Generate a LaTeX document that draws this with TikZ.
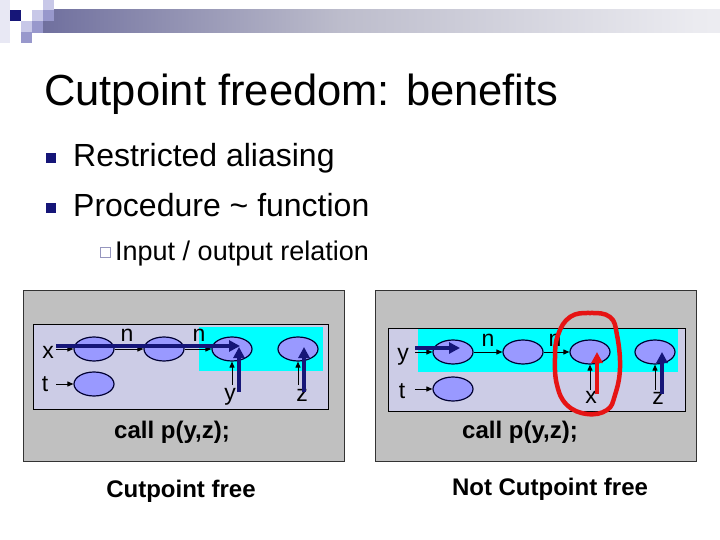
\documentclass[tikz,border=0pt]{standalone}
\usepackage{fontspec}
\setmainfont{Liberation Sans}
\usetikzlibrary{arrows.meta,shapes.geometric}
\definecolor{navy}{RGB}{22,22,120}
\definecolor{ellfill}{RGB}{153,153,255}
\definecolor{ellline}{RGB}{0,0,50}
\definecolor{innerc}{RGB}{204,204,230}
\definecolor{outerc}{RGB}{192,192,192}
\definecolor{cyanc}{RGB}{0,255,255}
\definecolor{redc}{RGB}{230,20,20}
\definecolor{sqlight}{RGB}{200,200,232}
\definecolor{sqmed}{RGB}{152,152,204}
\definecolor{sqpale}{RGB}{232,232,244}
\definecolor{subb}{RGB}{150,150,190}
\pgfdeclarehorizontalshading{topbar}{100bp}{rgb(0bp)=(0.10,0.10,0.47); rgb(20bp)=(0.37,0.37,0.58); rgb(47bp)=(0.74,0.74,0.80); rgb(73bp)=(0.92,0.92,0.94); rgb(90bp)=(0.98,0.98,0.99); rgb(100bp)=(1,1,1)}
\tikzset{
  ell/.style={ellipse, minimum width=40pt, minimum height=24pt, inner sep=0pt, fill=ellfill, draw=ellline, line width=1.2pt},
  lab/.style={font=\fontsize{23}{23}\selectfont, inner sep=0pt, anchor=base},
  thinar/.style={-{Triangle[length=6pt,width=5pt]}, line width=1pt, black},
  thickar/.style={-{Triangle[length=11pt,width=11pt]}, line width=4pt, navy},
  redar/.style={-{Triangle[length=11pt,width=11pt]}, line width=4pt, redc},
  panel/.style={fill=outerc, draw=black!80, line width=0.8pt},
  innerbox/.style={fill=innerc, draw=black, line width=0.8pt},
  bul/.style={fill=navy, minimum size=10pt, inner sep=0pt},
  subbul/.style={draw=subb, line width=0.8pt, fill=white, minimum size=10pt, inner sep=0pt},
  bigtxt/.style={font=\fontsize{32}{32}\selectfont, inner sep=0pt, anchor=base west},
  captxt/.style={font=\bfseries\fontsize{24}{24}\selectfont, inner sep=0pt, anchor=base}
}
\begin{document}
\begin{tikzpicture}[x=1pt,y=-1pt]
\useasboundingbox (0,0) rectangle (720,540);
\fill[white] (0,0) rectangle (720,540);
% header
\shade[shading=topbar] (43,10) rectangle (720,33);
\fill[sqpale] (0,0) rectangle (10,43);
\fill[navy] (10,10) rectangle (21,21);
\fill[sqlight] (32,10) rectangle (43,21);
\fill[sqmed] (43,10) rectangle (54,21);
\fill[sqlight] (43,0) rectangle (54,10);
\fill[sqlight] (21,21) rectangle (32,32);
\fill[sqmed] (32,21) rectangle (43,33);
\fill[sqmed] (21,32) rectangle (32,43);
% title and bullets
\node[anchor=base west, font=\fontsize{43.5}{43.5}\selectfont, inner sep=0pt] (title) at (44,106) {Cutpoint freedom: benefits};
\node[bul] (b1) at (51,158) {};
\node[bigtxt] (t1) at (73,167) {Restricted aliasing};
\node[bul] (b2) at (51,208) {};
\node[bigtxt] (t2) at (73,217) {Procedure \textasciitilde{} function};
\node[subbul] (b3) at (105,252) {};
\node[font=\fontsize{27}{27}\selectfont, inner sep=0pt, anchor=base west] (t3) at (115,260) {Input / output relation};
% left panel
\draw[panel] (23,290) rectangle (344,461);
\draw[innerbox] (33,324) rectangle (328,409);
\fill[cyanc] (199,327) rectangle (323,371);
\node[ell] (L1) at (94,349) {};
\node[ell] (L2) at (164,349) {};
\node[ell] (L3) at (232,349) {};
\node[ell] (L4) at (298,349) {};
\node[ell] (LT) at (94,384) {};
\node[lab] (lx) at (48,358) {x};
\node[lab] (lt) at (45,391) {t};
\node[lab] (ln1) at (127,341) {n};
\node[lab] (ln2) at (199,341) {n};
\node[lab] (ly) at (230,400) {y};
\node[lab] (lz) at (302,401) {z};
\coordinate (lxs) at (56,349);
\coordinate (lts) at (56,384);
\coordinate (lys) at (232,385);
\coordinate (lzs) at (298,385);
\draw[thinar] (lxs) -- (L1);
\draw[thinar] (L1) -- (L2);
\draw[thinar] (L2) -- (L3);
\draw[thinar] (lts) -- (LT);
\draw[thinar] (lys) -- (L3);
\draw[thinar] (lzs) -- (L4);
\coordinate (lna) at (56,346);
\coordinate (lnb) at (240,346);
\draw[thickar] (lna) -- (lnb);
\coordinate (lya) at (239,392);
\coordinate (lyb) at (239,347);
\draw[thickar] (lya) -- (lyb);
\coordinate (lza) at (304,392);
\coordinate (lzb) at (304,347);
\draw[thickar] (lza) -- (lzb);
\node[captxt] (lcall) at (172,438) {call p(y,z);};
\node[captxt] (lcap) at (181,497) {Cutpoint free};
% right panel
\draw[panel] (375,290) rectangle (696,461);
\draw[innerbox] (388,328) rectangle (685,411);
\fill[cyanc] (418,329) rectangle (678,372);
\node[ell] (R1) at (453,352) {};
\node[ell] (R2) at (523,352) {};
\node[ell] (R3) at (590,352) {};
\node[ell] (R4) at (655,352) {};
\node[ell] (RT) at (453,389) {};
\node[lab] (ry) at (403,360) {y};
\node[lab] (rt) at (402,398) {t};
\node[lab] (rn1) at (488,346) {n};
\node[lab] (rn2) at (555,346) {n};
\node[lab] (rx) at (591,403) {x};
\node[lab] (rz) at (658,404) {z};
\coordinate (rys) at (415,352);
\coordinate (rts) at (415,389);
\coordinate (rxs) at (590,390);
\coordinate (rzs) at (655,390);
\draw[thinar] (rys) -- (R1);
\draw[thinar] (R1) -- (R2);
\draw[thinar] (R2) -- (R3);
\draw[thinar] (rts) -- (RT);
\draw[thinar] (rxs) -- (R3);
\draw[thinar] (rzs) -- (R4);
\coordinate (rna) at (415,348);
\coordinate (rnb) at (460,348);
\draw[thickar] (rna) -- (rnb);
\coordinate (rxa) at (597,394);
\coordinate (rxb) at (597,352);
\draw[redar] (rxa) -- (rxb);
\coordinate (rza) at (662,394);
\coordinate (rzb) at (662,352);
\draw[thickar] (rza) -- (rzb);
\draw[redc, line width=4.5pt, line cap=round] plot[smooth cycle, tension=0.7] coordinates {(570,317) (590,313) (610,317) (617,335) (620,368) (615,395) (607,410) (587,414) (567,405) (557,385) (555,358) (558,335)};
\node[captxt] (rcall) at (520,438) {call p(y,z);};
\node[captxt] (rcap) at (550,495) {Not Cutpoint free};
\end{tikzpicture}
\end{document}
